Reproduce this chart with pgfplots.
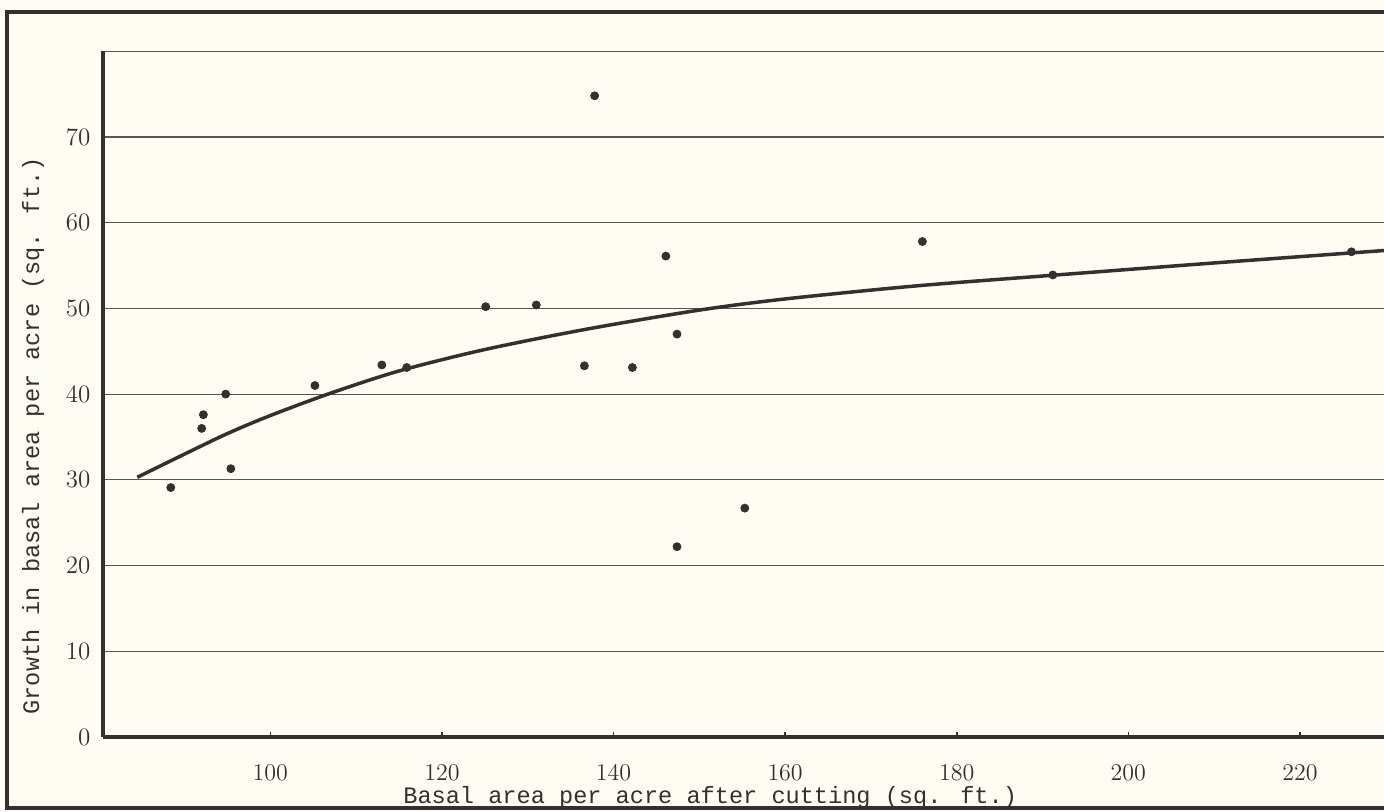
\documentclass[border=0pt]{standalone}
\usepackage{pgfplots}
\pgfplotsset{compat=1.18}
\usepackage{fontspec}
\newfontfamily\typew{Liberation Mono}
\definecolor{paper}{RGB}{253,253,243}
\definecolor{ink}{RGB}{55,47,47}
\definecolor{rule}{RGB}{90,85,80}

\begin{document}
\begin{tikzpicture}
\clip (0,0) rectangle (692pt,405.5pt);
\fill[paper] (0,0) rectangle (692pt,405.5pt);
% outer frame, right side runs off the page
\draw[ink, line width=2pt] (720pt,1.5pt) -- (3.5pt,1.5pt) -- (3.5pt,399.5pt) -- (720pt,399.5pt);
\begin{axis}[
    at={(51.5pt,37pt)}, anchor=south west,
    scale only axis, width=640.5pt, height=342.9pt,
    xmin=80.5, xmax=229.8, ymin=0, ymax=80,
    axis x line=bottom, axis y line=left,
    axis line style={-, ink, line width=2pt},
    xtick={100,120,...,220},
    ytick={0,10,...,80}, yticklabels={0,10,20,30,40,50,60,70,{}},
    ymajorgrids, grid style={rule, line width=0.6pt},
    major tick length=2.6pt, xtick align=inside,
    xtick style={ink, line width=0.8pt}, ytick style={draw=none},
    ticklabel style={font=\fontsize{12.5}{14}\selectfont, text=ink},
    xticklabel style={yshift=-10.5pt},
    yticklabel style={xshift=-1.5pt},
    xlabel={Basal area per acre after cutting (sq. ft.)},
    ylabel={Growth in basal area per acre (sq. ft.)},
    label style={font=\typew\fontsize{11.8}{13}\selectfont, text=ink},
    xlabel style={at={(rel axis cs:0.474,0)}, anchor=base, yshift=-33pt},
    ylabel style={at={(rel axis cs:-0.0547,0.439)}, anchor=center},
    clip=false,
  ]
  % fitted curve
  \addplot[ink, line width=1.75pt, smooth, no markers] coordinates {
    (84.5,30.3) (90,33.0) (95,35.4) (100,37.5) (107,40.1) (115,42.7)
    (125,45.2) (137,47.6) (150,49.8) (160,51.1) (175,52.6) (191,53.85)
    (210,55.3) (229.8,56.75)};
  % plot observations
  \addplot[only marks, mark=*, mark size=2pt, ink, mark options={fill=ink}] coordinates {
    (88.4,29.1) (92.0,36.0) (92.2,37.6) (94.8,40.0) (95.4,31.3)
    (105.2,41.0) (113.0,43.4) (115.9,43.1) (125.1,50.2) (131.0,50.4)
    (136.6,43.3) (137.8,74.8) (142.2,43.1) (146.1,56.1) (147.4,47.0)
    (147.4,22.2) (155.3,26.7) (176.0,57.8) (191.2,53.9) (226.0,56.6)};
\end{axis}
\end{tikzpicture}
\end{document}
